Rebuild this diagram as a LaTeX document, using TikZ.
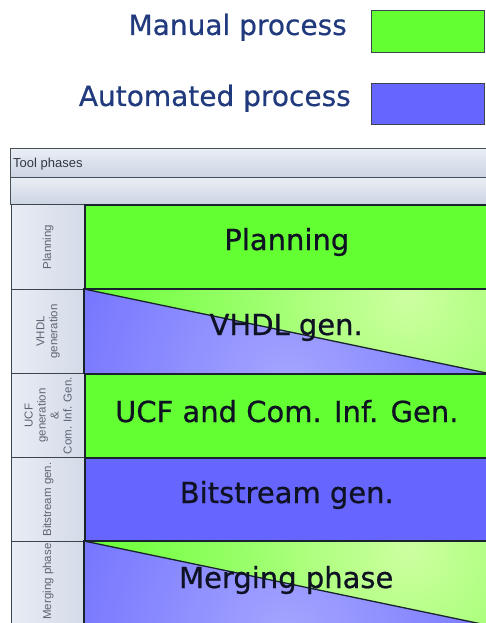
\documentclass[tikz,border=0pt]{standalone}
\usepackage{fontspec}
\setmainfont{DejaVu Sans}
\newfontfamily\smallfont{Liberation Sans}
\newfontfamily\phasefont[FakeBold=0.7]{DejaVu Sans}
\newfontfamily\legfont[FakeBold=0.5]{DejaVu Sans}
\usetikzlibrary{calc}
\definecolor{mgreen}{RGB}{100,255,50}
\definecolor{mblue}{RGB}{102,102,255}
\definecolor{legtext}{RGB}{32,58,125}
\definecolor{rowline}{RGB}{25,35,45}
\definecolor{cellA}{RGB}{232,236,244}
\definecolor{cellB}{RGB}{212,219,232}
\definecolor{hdrA}{RGB}{234,238,245}
\definecolor{hdrB}{RGB}{204,212,227}
\definecolor{labtext}{RGB}{15,18,35}
\definecolor{smalltext}{RGB}{95,100,115}
\definecolor{greenlight}{RGB}{205,255,160}
\definecolor{bluelight}{RGB}{165,165,255}
\begin{document}
\begin{tikzpicture}[x=1pt,y=-1pt,
  legtxt/.style={anchor=base east, text=legtext, font=\legfont\fontsize{28}{30}\selectfont, inner sep=0pt},
  legbox/.style={draw=rowline!85, line width=1.2pt, anchor=north west, minimum width=113pt, inner sep=0pt},
  hdrrow/.style={anchor=north west, draw=rowline!80, line width=0.9pt, top color=hdrA, bottom color=hdrB, minimum width=478pt, inner sep=0pt},
  sidecell/.style={anchor=north west, draw=rowline!85, line width=1.1pt, left color=cellA, right color=cellB, minimum width=73pt, inner sep=0pt},
  sidetxt/.style={rotate=90, align=center, text=smalltext, font=\smallfont\fontsize{11.5}{13}\selectfont, inner sep=0pt},
  phase/.style={anchor=north west, minimum width=404pt, inner sep=0pt},
  rowborder/.style={draw=rowline, line width=1.6pt},
  phasetxt/.style={anchor=base, text=labtext, font=\phasefont\fontsize{29}{32}\selectfont, inner sep=0pt}]
\clip (0,0) rectangle (486,623);
\fill[white] (0,0) rectangle (486,623);
% legend
\node[legtxt] (lm) at (347,35) {Manual process};
\node[legbox, fill=mgreen, minimum height=42pt] (bm) at (371,10) {};
\node[legtxt] (la) at (351,106) {Automated process};
\node[legbox, fill=mblue, minimum height=41pt] (ba) at (371,83) {};
% header
\node[hdrrow, minimum height=29pt] (h1) at (10,148) {};
\node[hdrrow, minimum height=27pt] (h2) at (10,177) {};
\node[anchor=base west, text=rowline!90, font=\smallfont\fontsize{13}{14}\selectfont, inner sep=0pt] (ht) at (13,167) {Tool phases};
% side cells
\node[sidecell, minimum height=85pt] (s1) at (11,204) {};
\node[sidecell, minimum height=84pt] (s2) at (11,289) {};
\node[sidecell, minimum height=84pt] (s3) at (11,373) {};
\node[sidecell, minimum height=84pt] (s4) at (11,457) {};
\node[sidecell, minimum height=84pt] (s5) at (11,541) {};
\node[sidetxt] (t1) at (s1.center) {Planning};
\node[sidetxt] (t2) at (s2.center) {VHDL\\generation};
\node[sidetxt] (t3) at (s3.center) {UCF\\generation\\\&\\Com. Inf. Gen.};
\node[sidetxt] (t4) at (s4.center) {Bitstream gen.};
\node[sidetxt] (t5) at ($(s5.center)+(0,-2)$) {Merging phase};
% phase rows
\node[phase, fill=mgreen, rowborder, minimum height=85pt] (p1) at (84,204) {};
\node[phase, minimum height=84pt] (p2) at (84,289) {};
\node[phase, fill=mgreen, rowborder, minimum height=84pt] (p3) at (84,373) {};
\node[phase, fill=mblue, rowborder, minimum height=84pt] (p4) at (84,457) {};
\node[phase, minimum height=84pt] (p5) at (84,541) {};
% split rows
\foreach \r in {p2,p5}{
  \begin{scope}
    \clip (\r.north west) -- (\r.north east) -- (\r.south east) -- cycle;
    \shade[inner color=greenlight, outer color=mgreen] ($(\r.north east)+(-80,8)$) circle (330);
  \end{scope}
  \begin{scope}
    \clip (\r.north west) -- (\r.south west) -- (\r.south east) -- cycle;
    \shade[inner color=bluelight, outer color=mblue] ($(\r.south)+(0,12)$) circle (300);
  \end{scope}
  \draw[rowborder] (\r.north west) rectangle (\r.south east);
  \draw[draw=rowline, line width=1.3pt] (\r.north west) -- (\r.south east);
}
\node[phasetxt] (q1) at ($(p1.north)+(0,46)$) {Planning};
\node[phasetxt] (q2) at ($(p2.north)+(0,46)$) {VHDL gen.};
\node[phasetxt] (q3) at ($(p3.north)+(0,49)$) {UCF and Com. Inf. Gen.};
\node[phasetxt] (q4) at ($(p4.north)+(0,46)$) {Bitstream gen.};
\node[phasetxt] (q5) at ($(p5.north)+(0,47)$) {Merging phase};
\end{tikzpicture}
\end{document}
